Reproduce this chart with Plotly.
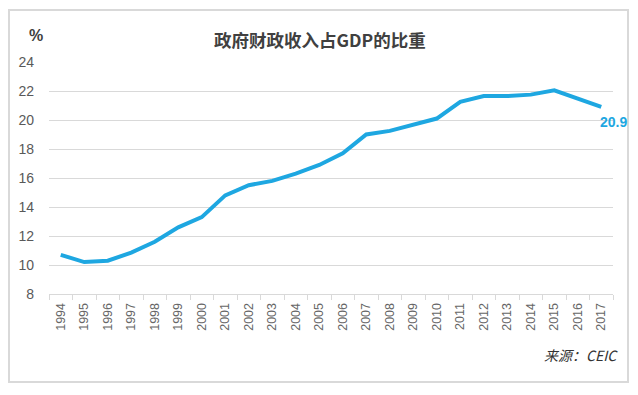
import plotly.graph_objects as go

years = [str(y) for y in range(1994, 2018)]
share = [10.7, 10.2, 10.3, 10.85, 11.6, 12.6, 13.3, 14.8, 15.5, 15.8, 16.3, 16.9, 17.7,
         19.0, 19.25, 19.65, 20.1, 21.25, 21.65, 21.65, 21.75, 22.05, 21.45, 20.9]
title_text = "政府财政收入占GDP的比重"
unit_text = "%"
source_text = "来源：CEIC"
y_ticks = [8, 10, 12, 14, 16, 18, 20, 22, 24]

LINE = "#1ea7e1"
TXT = "#595959"
OFF = 8  # browser body margin
W, H = 638 - OFF, 395 - OFF
L, R, T, B = 49 - OFF, 25, 62 - OFF, 101
pw, ph = W - L - R, H - T - B

def px(x):
    return (x - OFF - L) / pw

def py(y):
    return (H - B - (y - OFF)) / ph

fig = go.Figure()
fig.add_trace(go.Scatter(x=years, y=share, mode="lines",
                         line=dict(color=LINE, width=4), hoverinfo="skip"))

fig.update_layout(
    width=W, height=H,
    margin=dict(l=L, r=R, t=T, b=B),
    paper_bgcolor="white", plot_bgcolor="white",
    showlegend=False,
    font=dict(family="Liberation Sans, Arial, sans-serif", color=TXT),
    xaxis=dict(type="category", tickangle=-90, tickfont=dict(size=12.5, color="#666666"),
               showgrid=False, showline=True, linecolor="#d9d9d9", linewidth=1,
               ticks="outside", tickson="boundaries", ticklen=5, tickcolor="#d9d9d9",
               ticklabelstandoff=3,
               range=[-0.5, len(years) - 0.5], fixedrange=True, automargin=False),
    yaxis=dict(range=[8, 24], tickvals=y_ticks, showgrid=True, gridcolor="#d9d9d9",
               gridwidth=1, zeroline=False, showline=False, automargin=False,
               tickfont=dict(size=14, color=TXT), ticklabelstandoff=14, fixedrange=True),
)

fig.add_annotation(x=len(years) - 1, y=share[-1], xref="x", yref="y",
                   text="<b>%.1f</b>" % share[-1], showarrow=False,
                   xshift=12, yshift=-15,
                   font=dict(size=14, color=LINE, family="Liberation Sans, Arial, sans-serif"))

fig.add_annotation(x=px(320), y=py(25), xref="paper", yref="paper",
                   text="<b>" + title_text + "</b>", showarrow=False,
                   font=dict(size=17.5, color="#404040", family="Noto Sans CJK SC"))
fig.add_annotation(x=px(27), y=py(25), xref="paper", yref="paper",
                   text="<b>" + unit_text + "</b>", showarrow=False,
                   font=dict(size=16, color="#404040", family="Liberation Sans, Arial"))
fig.add_annotation(x=px(620), y=py(367), xref="paper", yref="paper",
                   xanchor="right", text="<i>" + source_text + "</i>", showarrow=False,
                   font=dict(size=14, color="#333333", family="Noto Sans CJK SC"))

fig.add_shape(type="rect", xref="paper", yref="paper",
              x0=px(9), x1=px(628), y0=py(382), y1=py(10),
              line=dict(color="#d9d9d9", width=2), fillcolor="rgba(0,0,0,0)", layer="below")

fig.write_html("out.html")
